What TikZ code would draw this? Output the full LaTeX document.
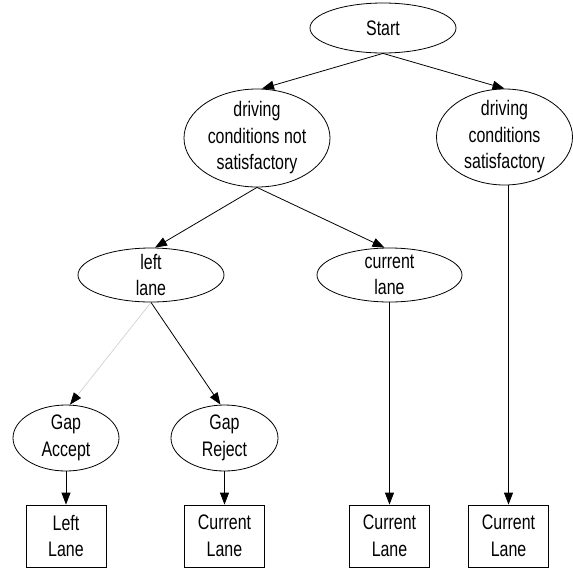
\documentclass[tikz,border=0pt]{standalone}
\usepackage{fontspec}
\setmainfont[FakeStretch=0.76]{Liberation Sans}
\usetikzlibrary{shapes.geometric,arrows.meta}

\begin{document}
\begin{tikzpicture}[x=1pt,y=-1pt,
  every node/.style={font=\fontsize{21}{26.5}\selectfont, align=center},
  oval/.style={ellipse, draw, line width=0.8pt, inner sep=-16pt},
  leaf/.style={rectangle, draw, line width=0.8pt, inner sep=0pt,
               minimum width=80pt, minimum height=62pt},
  link/.style={line width=0.8pt, -{Triangle[length=12pt,width=9pt]}},
  faint/.style={draw=black!20, line width=0.6pt, -{Triangle[length=12pt,width=9pt,color=black,fill=black]}}]

  \useasboundingbox (0,0) rectangle (573,571);

  % decision ellipses
  \node[oval, minimum width=146pt, minimum height=50pt] (start) at (383,28) {Start};
  \node[oval, minimum width=146pt, minimum height=98pt] (ns) at (257,138) {driving\\conditions not\\satisfactory};
  \node[oval, minimum width=136pt, minimum height=96pt] (sat) at (504.5,137) {driving\\conditions\\satisfactory};
  \node[oval, minimum width=146pt, minimum height=54pt] (ll) at (151,275) {left\\lane};
  \node[oval, minimum width=145pt, minimum height=54pt] (cl) at (389.5,275) {current\\lane};
  \node[oval, minimum width=106pt, minimum height=66pt] (ga) at (66,438) {Gap\\Accept};
  \node[oval, minimum width=107pt, minimum height=66pt] (gr) at (224.5,438) {Gap\\Reject};

  % outcome boxes
  \node[leaf] (b1) at (66,536) {Left\\Lane};
  \node[leaf] (b2) at (224.5,536) {Current\\Lane};
  \node[leaf] (b3) at (389.5,536) {Current\\Lane};
  \node[leaf] (b4) at (508.5,536) {Current\\Lane};

  % connectors (tips land just beside the top of each ellipse)
  \draw[link] (start.south) -- ([xshift=5pt]ns.north);
  \draw[link] (start.south) -- (sat.north);
  \draw[link] (ns.south) -- ([xshift=4pt]ll.north);
  \draw[link] (ns.south) -- ([xshift=-5pt]cl.north);
  \draw[faint] (ll.south) -- ([xshift=4pt]ga.north);
  \draw[link] (ll.south) -- ([xshift=-4pt]gr.north);
  \draw[link] (ga.south) -- (b1.north);
  \draw[link] (gr.south) -- (b2.north);
  \draw[link] (cl.south) -- (b3.north);
  \draw[link] (b4.north |- sat.south) -- (b4.north);
\end{tikzpicture}
\end{document}
